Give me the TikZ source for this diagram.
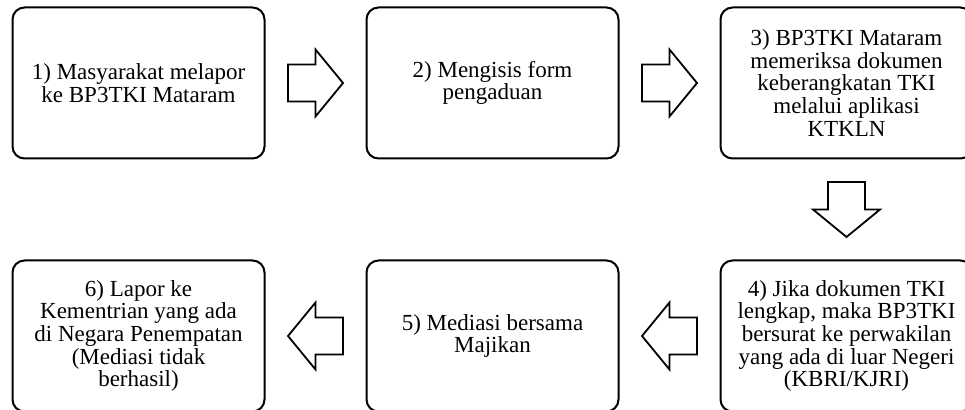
\documentclass[tikz,border=0pt]{standalone}
\usepackage{fontspec}
\setmainfont{Liberation Serif}
\usetikzlibrary{positioning,calc}
\tikzset{
  stepbox/.style={draw, line width=2pt, rounded corners=12pt, minimum width=252pt, minimum height=151pt, align=center, inner sep=0pt, font=\fontsize{23}{22.6}\selectfont},
  blockarrow/.pic={\draw[line width=1.8pt, line join=miter] (-27.5,-18.5) -- (0,-18.5) -- (0,-33.5) -- (27.5,0) -- (0,33.5) -- (0,18.5) -- (-27.5,18.5) -- cycle;}
}
\begin{document}
\begin{tikzpicture}[x=1pt, y=1pt, node distance=100pt]
 \useasboundingbox (0,0) rectangle (965,409);
 \node[stepbox] (b1) at (138.5,326) {1) Masyarakat melapor\\ke BP3TKI Mataram};
 \node[stepbox, right=of b1] (b2) {2) Mengisis form\\pengaduan};
 \node[stepbox, right=of b2] (b3) {3) BP3TKI Mataram\\memeriksa dokumen\\keberangkatan TKI\\melalui aplikasi\\KTKLN};
 \node[stepbox, below=of b3] (b4) {4) Jika dokumen TKI\\lengkap, maka BP3TKI\\bersurat ke perwakilan\\yang ada di luar Negeri\\(KBRI/KJRI)};
 \node[stepbox, left=of b4] (b5) {5) Mediasi bersama\\Majikan};
 \node[stepbox, left=of b5] (b6) {6) Lapor ke\\Kementrian yang ada\\di Negara Penempatan\\(Mediasi tidak\\berhasil)};
 % block arrows between the steps
 \pic at ($(b1.east)!.5!(b2.west)$) {blockarrow};
 \pic at ($(b2.east)!.5!(b3.west)$) {blockarrow};
 \pic[rotate=-90] at ($(b3.south)!.5!(b4.north)$) {blockarrow};
 \pic[rotate=180] at ($(b4.west)!.5!(b5.east)$) {blockarrow};
 \pic[rotate=180] at ($(b5.west)!.5!(b6.east)$) {blockarrow};
\end{tikzpicture}
\end{document}
